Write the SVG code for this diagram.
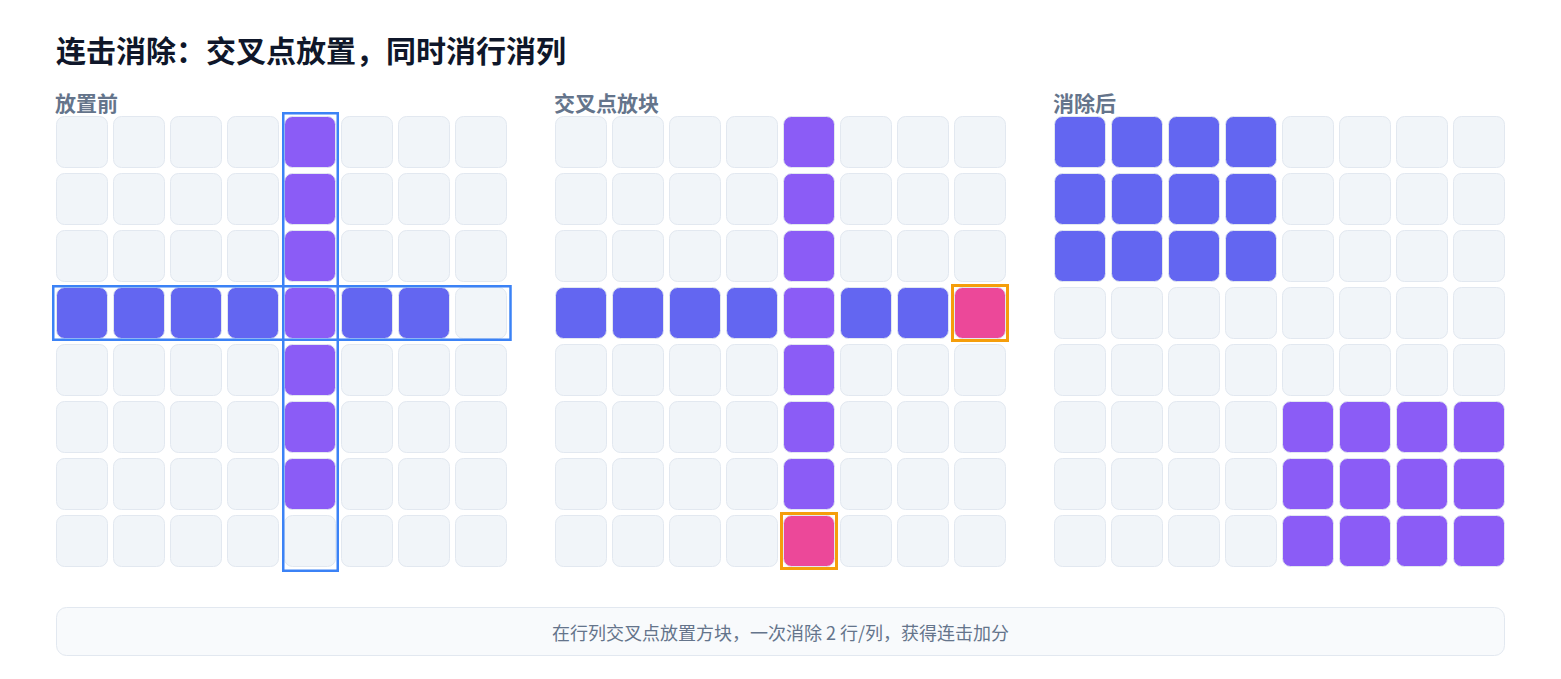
<svg xmlns="http://www.w3.org/2000/svg" xmlns:xlink="http://www.w3.org/1999/xlink" width="1561" height="679" viewBox="0 0 1561 679">
<style>
.title{font-family:"Noto Sans CJK SC","Noto Sans",sans-serif;font-size:30px;font-weight:700;fill:#0f172a}
.lbl{font-family:"Noto Sans CJK SC","Noto Sans",sans-serif;font-size:21px;font-weight:700;fill:#64748b}
.foot{font-family:"Noto Sans CJK SC","Noto Sans",sans-serif;font-size:18px;fill:#64748b}
.e{fill:#f1f5f9;stroke:#e2e8f0}
.p{fill:#8b5cf6;stroke:#e2e8f0}
.i{fill:#6366f1;stroke:#e2e8f0}
.k{fill:#ec4899;stroke:#e2e8f0}
.hb{fill:none;stroke:#3b82f6;stroke-width:2.5}
.ho{fill:none;stroke:#f59e0b;stroke-width:3}
</style>
<defs>
<rect id="c" x="0.5" y="0.5" width="51" height="51" rx="8" stroke-width="1"/>
</defs>
<rect width="1561" height="679" fill="#ffffff"/>
<text class="title" x="56" y="62">连击消除：交叉点放置，同时消行消列</text>

<g id="panel-before">
<text class="lbl" x="55" y="111">放置前</text>
<g transform="translate(56,116)">
<use href="#c" class="e" x="0" y="0"/><use href="#c" class="e" x="57" y="0"/><use href="#c" class="e" x="114" y="0"/><use href="#c" class="e" x="171" y="0"/><use href="#c" class="p" x="228" y="0"/><use href="#c" class="e" x="285" y="0"/><use href="#c" class="e" x="342" y="0"/><use href="#c" class="e" x="399" y="0"/>
<use href="#c" class="e" x="0" y="57"/><use href="#c" class="e" x="57" y="57"/><use href="#c" class="e" x="114" y="57"/><use href="#c" class="e" x="171" y="57"/><use href="#c" class="p" x="228" y="57"/><use href="#c" class="e" x="285" y="57"/><use href="#c" class="e" x="342" y="57"/><use href="#c" class="e" x="399" y="57"/>
<use href="#c" class="e" x="0" y="114"/><use href="#c" class="e" x="57" y="114"/><use href="#c" class="e" x="114" y="114"/><use href="#c" class="e" x="171" y="114"/><use href="#c" class="p" x="228" y="114"/><use href="#c" class="e" x="285" y="114"/><use href="#c" class="e" x="342" y="114"/><use href="#c" class="e" x="399" y="114"/>
<use href="#c" class="i" x="0" y="171"/><use href="#c" class="i" x="57" y="171"/><use href="#c" class="i" x="114" y="171"/><use href="#c" class="i" x="171" y="171"/><use href="#c" class="p" x="228" y="171"/><use href="#c" class="i" x="285" y="171"/><use href="#c" class="i" x="342" y="171"/><use href="#c" class="e" x="399" y="171"/>
<use href="#c" class="e" x="0" y="228"/><use href="#c" class="e" x="57" y="228"/><use href="#c" class="e" x="114" y="228"/><use href="#c" class="e" x="171" y="228"/><use href="#c" class="p" x="228" y="228"/><use href="#c" class="e" x="285" y="228"/><use href="#c" class="e" x="342" y="228"/><use href="#c" class="e" x="399" y="228"/>
<use href="#c" class="e" x="0" y="285"/><use href="#c" class="e" x="57" y="285"/><use href="#c" class="e" x="114" y="285"/><use href="#c" class="e" x="171" y="285"/><use href="#c" class="p" x="228" y="285"/><use href="#c" class="e" x="285" y="285"/><use href="#c" class="e" x="342" y="285"/><use href="#c" class="e" x="399" y="285"/>
<use href="#c" class="e" x="0" y="342"/><use href="#c" class="e" x="57" y="342"/><use href="#c" class="e" x="114" y="342"/><use href="#c" class="e" x="171" y="342"/><use href="#c" class="p" x="228" y="342"/><use href="#c" class="e" x="285" y="342"/><use href="#c" class="e" x="342" y="342"/><use href="#c" class="e" x="399" y="342"/>
<use href="#c" class="e" x="0" y="399"/><use href="#c" class="e" x="57" y="399"/><use href="#c" class="e" x="114" y="399"/><use href="#c" class="e" x="171" y="399"/><use href="#c" class="e" x="228" y="399"/><use href="#c" class="e" x="285" y="399"/><use href="#c" class="e" x="342" y="399"/><use href="#c" class="e" x="399" y="399"/>
</g>
</g>

<g id="panel-cross">
<text class="lbl" x="554" y="111">交叉点放块</text>
<g transform="translate(555,116)">
<use href="#c" class="e" x="0" y="0"/><use href="#c" class="e" x="57" y="0"/><use href="#c" class="e" x="114" y="0"/><use href="#c" class="e" x="171" y="0"/><use href="#c" class="p" x="228" y="0"/><use href="#c" class="e" x="285" y="0"/><use href="#c" class="e" x="342" y="0"/><use href="#c" class="e" x="399" y="0"/>
<use href="#c" class="e" x="0" y="57"/><use href="#c" class="e" x="57" y="57"/><use href="#c" class="e" x="114" y="57"/><use href="#c" class="e" x="171" y="57"/><use href="#c" class="p" x="228" y="57"/><use href="#c" class="e" x="285" y="57"/><use href="#c" class="e" x="342" y="57"/><use href="#c" class="e" x="399" y="57"/>
<use href="#c" class="e" x="0" y="114"/><use href="#c" class="e" x="57" y="114"/><use href="#c" class="e" x="114" y="114"/><use href="#c" class="e" x="171" y="114"/><use href="#c" class="p" x="228" y="114"/><use href="#c" class="e" x="285" y="114"/><use href="#c" class="e" x="342" y="114"/><use href="#c" class="e" x="399" y="114"/>
<use href="#c" class="i" x="0" y="171"/><use href="#c" class="i" x="57" y="171"/><use href="#c" class="i" x="114" y="171"/><use href="#c" class="i" x="171" y="171"/><use href="#c" class="p" x="228" y="171"/><use href="#c" class="i" x="285" y="171"/><use href="#c" class="i" x="342" y="171"/><use href="#c" class="k" x="399" y="171"/>
<use href="#c" class="e" x="0" y="228"/><use href="#c" class="e" x="57" y="228"/><use href="#c" class="e" x="114" y="228"/><use href="#c" class="e" x="171" y="228"/><use href="#c" class="p" x="228" y="228"/><use href="#c" class="e" x="285" y="228"/><use href="#c" class="e" x="342" y="228"/><use href="#c" class="e" x="399" y="228"/>
<use href="#c" class="e" x="0" y="285"/><use href="#c" class="e" x="57" y="285"/><use href="#c" class="e" x="114" y="285"/><use href="#c" class="e" x="171" y="285"/><use href="#c" class="p" x="228" y="285"/><use href="#c" class="e" x="285" y="285"/><use href="#c" class="e" x="342" y="285"/><use href="#c" class="e" x="399" y="285"/>
<use href="#c" class="e" x="0" y="342"/><use href="#c" class="e" x="57" y="342"/><use href="#c" class="e" x="114" y="342"/><use href="#c" class="e" x="171" y="342"/><use href="#c" class="p" x="228" y="342"/><use href="#c" class="e" x="285" y="342"/><use href="#c" class="e" x="342" y="342"/><use href="#c" class="e" x="399" y="342"/>
<use href="#c" class="e" x="0" y="399"/><use href="#c" class="e" x="57" y="399"/><use href="#c" class="e" x="114" y="399"/><use href="#c" class="e" x="171" y="399"/><use href="#c" class="k" x="228" y="399"/><use href="#c" class="e" x="285" y="399"/><use href="#c" class="e" x="342" y="399"/><use href="#c" class="e" x="399" y="399"/>
</g>
</g>

<g id="panel-after">
<text class="lbl" x="1053" y="111">消除后</text>
<g transform="translate(1054,116)">
<use href="#c" class="i" x="0" y="0"/><use href="#c" class="i" x="57" y="0"/><use href="#c" class="i" x="114" y="0"/><use href="#c" class="i" x="171" y="0"/><use href="#c" class="e" x="228" y="0"/><use href="#c" class="e" x="285" y="0"/><use href="#c" class="e" x="342" y="0"/><use href="#c" class="e" x="399" y="0"/>
<use href="#c" class="i" x="0" y="57"/><use href="#c" class="i" x="57" y="57"/><use href="#c" class="i" x="114" y="57"/><use href="#c" class="i" x="171" y="57"/><use href="#c" class="e" x="228" y="57"/><use href="#c" class="e" x="285" y="57"/><use href="#c" class="e" x="342" y="57"/><use href="#c" class="e" x="399" y="57"/>
<use href="#c" class="i" x="0" y="114"/><use href="#c" class="i" x="57" y="114"/><use href="#c" class="i" x="114" y="114"/><use href="#c" class="i" x="171" y="114"/><use href="#c" class="e" x="228" y="114"/><use href="#c" class="e" x="285" y="114"/><use href="#c" class="e" x="342" y="114"/><use href="#c" class="e" x="399" y="114"/>
<use href="#c" class="e" x="0" y="171"/><use href="#c" class="e" x="57" y="171"/><use href="#c" class="e" x="114" y="171"/><use href="#c" class="e" x="171" y="171"/><use href="#c" class="e" x="228" y="171"/><use href="#c" class="e" x="285" y="171"/><use href="#c" class="e" x="342" y="171"/><use href="#c" class="e" x="399" y="171"/>
<use href="#c" class="e" x="0" y="228"/><use href="#c" class="e" x="57" y="228"/><use href="#c" class="e" x="114" y="228"/><use href="#c" class="e" x="171" y="228"/><use href="#c" class="e" x="228" y="228"/><use href="#c" class="e" x="285" y="228"/><use href="#c" class="e" x="342" y="228"/><use href="#c" class="e" x="399" y="228"/>
<use href="#c" class="e" x="0" y="285"/><use href="#c" class="e" x="57" y="285"/><use href="#c" class="e" x="114" y="285"/><use href="#c" class="e" x="171" y="285"/><use href="#c" class="p" x="228" y="285"/><use href="#c" class="p" x="285" y="285"/><use href="#c" class="p" x="342" y="285"/><use href="#c" class="p" x="399" y="285"/>
<use href="#c" class="e" x="0" y="342"/><use href="#c" class="e" x="57" y="342"/><use href="#c" class="e" x="114" y="342"/><use href="#c" class="e" x="171" y="342"/><use href="#c" class="p" x="228" y="342"/><use href="#c" class="p" x="285" y="342"/><use href="#c" class="p" x="342" y="342"/><use href="#c" class="p" x="399" y="342"/>
<use href="#c" class="e" x="0" y="399"/><use href="#c" class="e" x="57" y="399"/><use href="#c" class="e" x="114" y="399"/><use href="#c" class="e" x="171" y="399"/><use href="#c" class="p" x="228" y="399"/><use href="#c" class="p" x="285" y="399"/><use href="#c" class="p" x="342" y="399"/><use href="#c" class="p" x="399" y="399"/>
</g>
</g>

<g id="highlights">
<rect class="hb" x="283.25" y="113.25" width="54.5" height="457.5"/>
<rect class="hb" x="53.25" y="286.25" width="457.25" height="53.5"/>
<rect class="ho" x="952.5" y="285.5" width="55" height="55"/>
<rect class="ho" x="781.5" y="513.5" width="55" height="55"/>
</g>

<g id="footer">
<rect x="56.5" y="607.5" width="1448" height="48" rx="10" fill="#f8fafc" stroke="#e2e8f0"/>
<text class="foot" x="780.5" y="640" text-anchor="middle">在行列交叉点放置方块，一次消除 2 行/列，获得连击加分</text>
</g>
</svg>
